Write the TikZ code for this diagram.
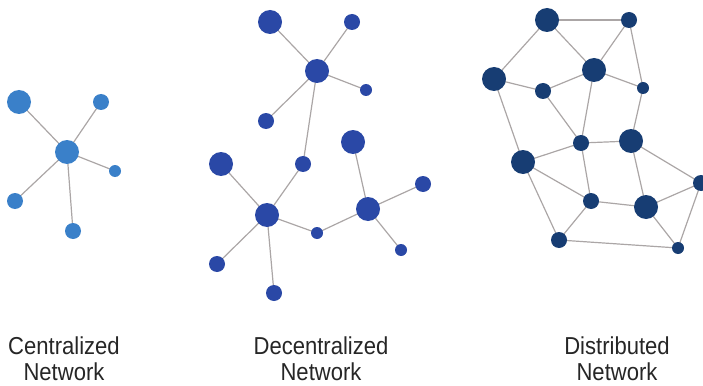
\documentclass[tikz,border=0pt]{standalone}
\usepackage{fontspec}
\setmainfont[FakeStretch=0.9]{Liberation Sans}
\usetikzlibrary{backgrounds}
\definecolor{cblue}{HTML}{3A80C9}
\definecolor{dblue}{HTML}{2A48A6}
\definecolor{nblue}{HTML}{173D73}
\definecolor{edgegray}{HTML}{ABA6A6}
\begin{document}
\begin{tikzpicture}[x=1pt,y=-1pt,
  nd/.style={circle,inner sep=0pt,minimum size=#1*2pt},
  cn/.style={nd=#1,fill=cblue},
  dn/.style={nd=#1,fill=dblue},
  nn/.style={nd=#1,fill=nblue},
  ed/.style={draw=edgegray,line width=1.2pt},
  lbl/.style={font=\fontsize{24.5}{26}\selectfont,align=center,text=black!85,inner sep=0pt}]
\useasboundingbox (0,0) rectangle (703,385);
% Centralized
\node[cn=12] (c1) at (19,102) {};
\node[cn=8] (c2) at (101,102) {};
\node[cn=12] (cc) at (67,152) {};
\node[cn=6] (c3) at (115,171) {};
\node[cn=8] (c4) at (15,201) {};
\node[cn=8] (c5) at (73,231) {};
% Decentralized
\node[dn=12] (t1) at (270,22) {};
\node[dn=8] (t2) at (352,22) {};
\node[dn=12] (h1) at (317,71) {};
\node[dn=6] (t3) at (366,90) {};
\node[dn=8] (t4) at (266,121) {};
\node[dn=8] (m) at (303,164) {};
\node[dn=12] (l) at (221,164) {};
\node[dn=12] (r) at (353,142) {};
\node[dn=12] (h2) at (267,215) {};
\node[dn=12] (h3) at (368,209) {};
\node[dn=6] (s) at (317,233) {};
\node[dn=8] (rr) at (423,184) {};
\node[dn=6] (rb) at (401,250) {};
\node[dn=8] (lb) at (217,264) {};
\node[dn=8] (b) at (274,293) {};
% Distributed
\node[nn=12] (d1) at (547,20) {};
\node[nn=8] (d2) at (629,20) {};
\node[nn=12] (d3) at (594,70) {};
\node[nn=12] (d4) at (494,79) {};
\node[nn=8] (d5) at (543,91) {};
\node[nn=6] (d6) at (643,88) {};
\node[nn=8] (d7) at (581,143) {};
\node[nn=12] (d8) at (631,141) {};
\node[nn=12] (d9) at (523,162) {};
\node[nn=8] (d10) at (701,183) {};
\node[nn=8] (d11) at (591,201) {};
\node[nn=12] (d12) at (646,207) {};
\node[nn=8] (d13) at (559,240) {};
\node[nn=6] (d14) at (678,248) {};
% edges
\begin{pgfonlayer}{background}
\foreach \a/\b in {c1/cc,c2/cc,c3/cc,c4/cc,c5/cc,
  t1/h1,t2/h1,t3/h1,t4/h1,h1/m,m/h2,l/h2,lb/h2,b/h2,h2/s,s/h3,r/h3,rr/h3,rb/h3,
  d1/d2,d1/d4,d1/d3,d2/d3,d2/d6,d3/d6,d3/d5,d4/d5,d4/d9,d5/d7,d3/d7,d7/d8,d8/d6,d8/d10,d8/d12,
  d7/d9,d7/d11,d9/d11,d9/d13,d11/d13,d11/d12,d12/d10,d12/d14,d10/d14,d13/d14}
  \draw[ed] (\a.center) -- (\b.center);
\end{pgfonlayer}
\node[lbl] (lc) at (64,358.5) {Centralized\\Network};
\node[lbl] (ld) at (321,358.5) {Decentralized\\Network};
\node[lbl] (lt) at (617,358.5) {Distributed\\Network};
\end{tikzpicture}
\end{document}
